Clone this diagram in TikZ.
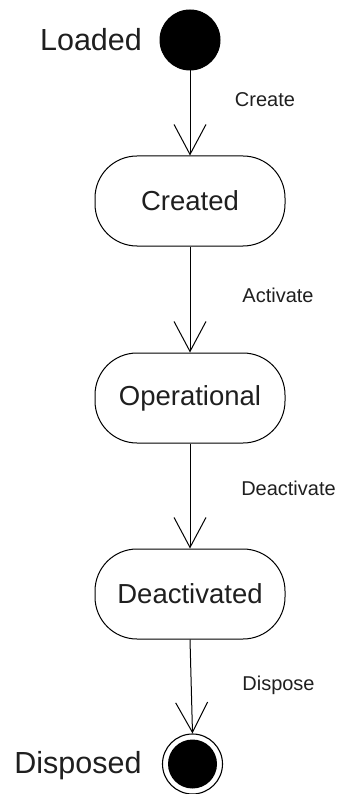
\documentclass[tikz,border=0pt]{standalone}
\usepackage{fontspec}
\setmainfont{Liberation Sans}
\usetikzlibrary{arrows.meta}
\begin{document}
\begin{tikzpicture}[x=1pt,y=-1pt,
  state/.style={draw, line width=1pt, rounded corners=42pt, minimum width=190pt,
    minimum height=90pt, font=\fontsize{27.5}{32}\selectfont, text=black!88, inner sep=0pt},
  initial/.style={circle, fill=black, draw, line width=1pt, minimum size=60pt, inner sep=0pt},
  final/.style={circle, draw, line width=1.1pt, minimum size=60pt, inner sep=0pt,
    path picture={\fill[black] (path picture bounding box.center) circle (24.5pt);}},
  trans/.style={line width=1pt, -{Straight Barb[length=30pt,width=32pt,line width=1pt]}},
  lbl/.style={font=\fontsize{20}{24}\selectfont, text=black!88},
  statelbl/.style={font=\fontsize{30.5}{36}\selectfont, text=black!88}]
  \useasboundingbox (0,0) rectangle (340,794);
  \node[initial] (loaded) at (190,40) {};
  \node[statelbl] (loadedlbl) at (91,40) {Loaded};
  \node[state] (created) at (190,201) {Created};
  \node[state] (operational) at (190,398) {Operational};
  \node[state] (deactivated) at (190,594) {Deactivated};
  \node[final] (disposed) at (192.5,764) {};
  \node[statelbl] (disposedlbl) at (78,766) {Disposed};
  \draw[trans] (loaded) -- (created);
  \draw[trans] (created) -- (operational);
  \draw[trans] (operational) -- (deactivated);
  \draw[trans] (deactivated.south) -- (disposed.north);
  \node[lbl] (l1) at (265,100) {Create};
  \node[lbl] (l2) at (278,295) {Activate};
  \node[lbl] (l3) at (288.5,488) {Deactivate};
  \node[lbl] (l4) at (278.5,685) {Dispose};
\end{tikzpicture}
\end{document}
